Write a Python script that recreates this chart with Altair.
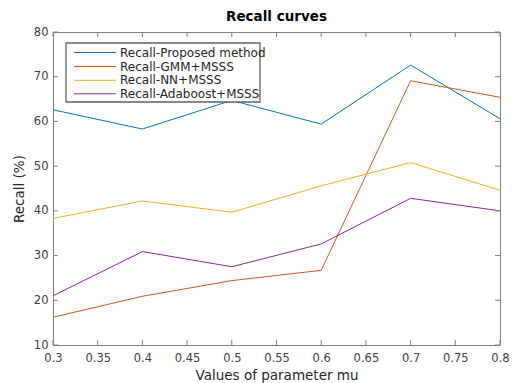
import altair as alt
import pandas as pd

mu = [0.3, 0.4, 0.5, 0.6, 0.7, 0.8]
proposed = [62.6, 58.3, 64.7, 59.4, 72.6, 60.6]
gmm = [16.2, 20.9, 24.4, 26.7, 69.1, 65.4]
nn = [38.3, 42.2, 39.7, 45.6, 50.8, 44.6]
ada = [21.0, 30.9, 27.5, 32.6, 42.8, 40.0]

series = ["Recall-Proposed method", "Recall-GMM+MSSS", "Recall-NN+MSSS", "Recall-Adaboost+MSSS"]
colors = ["#0072BD", "#D95319", "#EDB120", "#7E2F8E"]
x_ticks = [0.3, 0.35, 0.4, 0.45, 0.5, 0.55, 0.6, 0.65, 0.7, 0.75, 0.8]
y_ticks = [10, 20, 30, 40, 50, 60, 70, 80]

W, H = 447, 313
FONT = "DejaVu Sans"

rows = []
for name, vals in zip(series, [proposed, gmm, nn, ada]):
    for m, v in zip(mu, vals):
        rows.append({"mu": m, "recall": v, "series": name})
df = pd.DataFrame(rows)

xs = alt.Scale(domain=[0.3, 0.8], nice=False, zero=False)
ys = alt.Scale(domain=[10, 80], nice=False, zero=False)
cs = alt.Scale(domain=series, range=colors)

lines = alt.Chart(df).mark_line(strokeWidth=1).encode(
    x=alt.X("mu:Q", scale=xs,
            axis=alt.Axis(values=x_ticks, format=".2~f", ticks=False, domain=False, grid=False,
                          labelFlush=False, title="Values of parameter mu",
                          labelPadding=7, titlePadding=5)),
    y=alt.Y("recall:Q", scale=ys,
            axis=alt.Axis(values=y_ticks, ticks=False, domain=False, grid=False,
                          labelFlush=False, title="Recall (%)", labelPadding=5, titlePadding=7)),
    color=alt.Color("series:N", scale=cs, legend=None),
    detail="series:N",
)

xt = pd.DataFrame({"t": x_ticks})
yt = pd.DataFrame({"t": y_ticks})
tick_color = "#7f7f7f"
xb = alt.Chart(xt).mark_rule(color=tick_color, strokeWidth=1).encode(
    x=alt.X("t:Q", scale=xs), y=alt.value(H), y2=alt.value(H - 5))
xtop = alt.Chart(xt).mark_rule(color=tick_color, strokeWidth=1).encode(
    x=alt.X("t:Q", scale=xs), y=alt.value(0), y2=alt.value(5))
yl = alt.Chart(yt).mark_rule(color=tick_color, strokeWidth=1).encode(
    y=alt.Y("t:Q", scale=ys), x=alt.value(0), x2=alt.value(5))
yr = alt.Chart(yt).mark_rule(color=tick_color, strokeWidth=1).encode(
    y=alt.Y("t:Q", scale=ys), x=alt.value(W - 5), x2=alt.value(W))

box = alt.Chart(pd.DataFrame({"a": [0]})).mark_rect(
    fill="white", stroke="#606060", strokeWidth=1.3).encode(
    x=alt.value(13), x2=alt.value(207), y=alt.value(11), y2=alt.value(70))

leg_layers = [box]
row_y = [20.5, 34.5, 48.3, 61.8]
for name, col, ry in zip(series, colors, row_y):
    d = pd.DataFrame({"series": [name]})
    leg_layers.append(alt.Chart(d).mark_rule(strokeWidth=1, color=col).encode(
        x=alt.value(21), x2=alt.value(63), y=alt.value(ry)))
    leg_layers.append(alt.Chart(d).mark_text(
        align="left", baseline="middle", fontSize=12, font=FONT, color="#262626").encode(
        x=alt.value(67), y=alt.value(ry), text="series:N"))

chart = alt.layer(lines, xb, xtop, yl, yr, *leg_layers).properties(
    width=W, height=H, background="white",
    title=alt.TitleParams("Recall curves", fontSize=13.5, fontWeight="bold", font=FONT,
                          color="#000000", anchor="middle", offset=3),
    autosize=alt.AutoSizeParams(type="none"),
    padding={"left": 53, "top": 32, "right": 14, "bottom": 38},
).configure_view(stroke="#7f7f7f", strokeWidth=1).configure_axis(
    labelFont=FONT, titleFont=FONT, labelFontSize=11.5, titleFontSize=13.5,
    labelColor="#404040", titleColor="#262626", titleFontWeight="normal",
)

chart.save("out.html", embed_options={"renderer": "svg", "actions": False})
